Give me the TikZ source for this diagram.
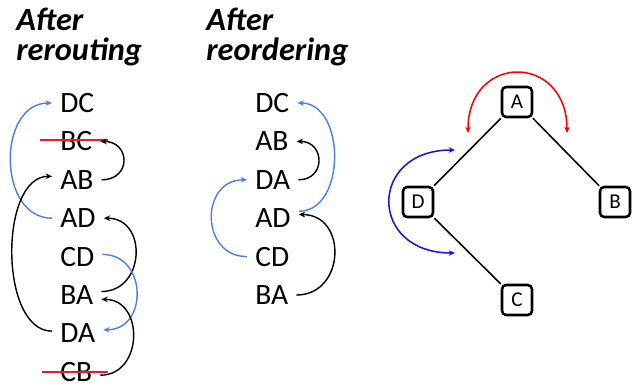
\documentclass[tikz,border=0pt]{standalone}
\usepackage{fontspec}
\setmainfont{Carlito}
\usetikzlibrary{arrows.meta}

\definecolor{swapblue}{RGB}{74,126,235}
\definecolor{treeblue}{RGB}{20,20,235}
\definecolor{cutred}{RGB}{230,30,30}

\begin{document}
\begin{tikzpicture}[x=0.25mm,y=-0.25mm,
		pair/.style={anchor=west, inner sep=2mm, font=\fontsize{21}{24}\selectfont},
		heading/.style={anchor=north west, inner sep=0pt, align=left, font=\fontsize{23}{21.5}\selectfont\bfseries\itshape},
		vertex/.style={draw, line width=1.8pt, rounded corners=3pt, minimum size=7.5mm, inner sep=0pt, font=\fontsize{15}{17}\selectfont},
		branch/.style={draw, line width=1.1pt},
		link/.style={draw, line width=1pt, -{Stealth[length=4.5pt,width=4pt]}},
		swing/.style={draw, line width=1.1pt, {Stealth[length=4.5pt,width=4pt]}-{Stealth[length=4.5pt,width=4pt]}},
		strike/.style={draw, cutred, line width=1pt}]
	\useasboundingbox (0,0) rectangle (636,385);

	% headings
	\node[heading] (h-reroute) at (16,8) {After\\rerouting};
	\node[heading] (h-reorder) at (206,8) {After\\reordering};

	% pairs after rerouting
	\foreach \p [count=\i from 0] in {DC,BC,AB,AD,CD,BA,DA,CB}
		\node[pair] (r-\p) at (52,103+38.4*\i) {\p};
	\draw[strike] ([xshift=-3mm,yshift=0.4mm]r-BC.west) -- ([xshift=2mm,yshift=0.4mm]r-BC.east);
	\draw[strike] ([xshift=-2.5mm]r-CB.west) -- ([xshift=2mm]r-CB.east);
	\draw[link, swapblue] (r-AD.west) .. controls +(-55,0) and +(-55,0) .. (r-DC.west);
	\draw[link] (r-AB.east) .. controls +(30,0) and +(30,0) .. (r-BC.east);
	\draw[link] (r-DA.175) .. controls +(-53,0) and +(-53,0) .. (r-AB.172);
	\draw[link] (r-BA.8) .. controls +(44,0) and +(44,0) .. (r-AD.east);
	\draw[link, swapblue] (r-CD.5) .. controls +(45,0) and +(45,0) .. (r-DA.8);
	\draw[link] (r-CB.-8) .. controls +(43,0) and +(43,0) .. (r-BA.-10);

	% pairs after reordering
	\foreach \p [count=\i from 0] in {DC,AB,DA,AD,CD,BA}
		\node[pair] (o-\p) at (247,103+38.4*\i) {\p};
	\draw[link, swapblue] (o-AD.15) .. controls +(48,0) and +(48,0) .. (o-DC.east);
	\draw[link] (o-DA.east) .. controls +(28,0) and +(28,0) .. (o-AB.east);
	\draw[link, swapblue] (o-CD.west) .. controls +(-47,0) and +(-47,0) .. (o-DA.west);
	\draw[link] (o-BA.east) .. controls +(49,0) and +(49,0) .. (o-AD.8);

	% the tree
	\node[vertex] (A) at (517,102) {A};
	\node[vertex] (D) at (418,202) {D};
	\node[vertex] (B) at (615,202) {B};
	\node[vertex] (C) at (517,300) {C};
	\draw[branch] (A) -- (D);
	\draw[branch] (A) -- (B);
	\draw[branch] (D) -- (C);

	% rotations
	\coordinate (ra) at (468,133);
	\coordinate (rb) at (567,133);
	\coordinate (ba) at (455,150);
	\coordinate (bb) at (455,253);
	\draw[swing, red] (ra) .. controls +(0,-80) and +(0,-80) .. (rb);
	\draw[swing, treeblue] (ba) .. controls +(-87,0) and +(-87,0) .. (bb);
\end{tikzpicture}
\end{document}
